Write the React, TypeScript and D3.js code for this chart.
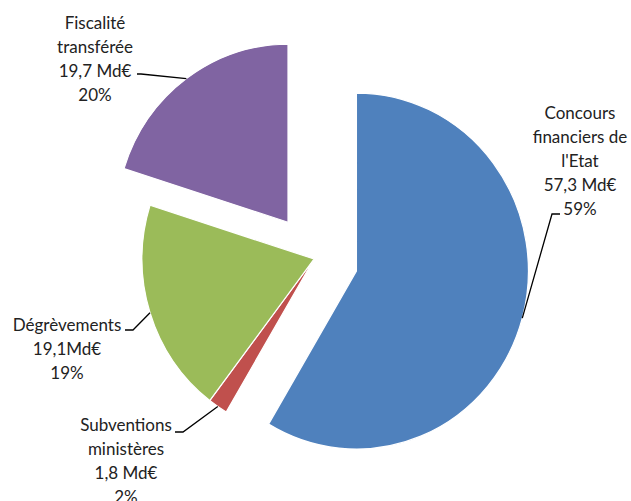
import React from "react";
import * as d3 from "d3";

const categories = ["Concours financiers de l'Etat", "Subventions ministères", "Dégrèvements", "Fiscalité transférée"];
const values = [57.3, 1.8, 19.1, 19.7];
const labelLines = [
  ["Concours", "financiers de", "l'Etat", "57,3 Md€", "59%"],
  ["Subventions", "ministères", "1,8 Md€", "2%"],
  ["Dégrèvements", "19,1Md€", "19%"],
  ["Fiscalité", "transférée", "19,7 Md€", "20%"],
];
const colors = ["#4F81BD", "#C0504D", "#9BBB59", "#8064A2"];
const explode = [44, 0, 0, 44];

// label layout: center x, first baseline y, leader start (x,y), elbow x
const labelLayout = [
  { cx: 580, y0: 119, sx: 560, sy: 214, ex: 552 },
  { cx: 126, y0: 431, sx: 175, sy: 432, ex: 183 },
  { cx: 67, y0: 331, sx: 125, sy: 330, ex: 133 },
  { cx: 95, y0: 29, sx: 137, sy: 74, ex: 141 },
];

const W = 631;
const H = 501;
const CX = 314;
const CY = 259;
const R = 172;
const KY = 1.035; // slight vertical stretch, as in the reference
const LH = 24;

export default function App() {
  const pie = d3.pie<number>().sort(null).value((d) => d);
  const arcs = pie(values);
  const arcGen = d3.arc<d3.PieArcDatum<number>>().innerRadius(0).outerRadius(R);
  const rimArc = d3.arc<d3.PieArcDatum<number>>().innerRadius(R).outerRadius(R);

  return (
    <svg
      width={W}
      height={H}
      style={{ position: "absolute", left: 0, top: 0, background: "#fff" }}
      fontFamily="Lato, 'Open Sans', sans-serif"
    >
      <g transform={`translate(${CX},${CY}) scale(1,${KY})`}>
        {arcs.map((a, i) => {
          const mid = (a.startAngle + a.endAngle) / 2;
          const dx = Math.sin(mid) * explode[i];
          const dy = -Math.cos(mid) * explode[i];
          return (
            <path
              key={categories[i]}
              d={arcGen(a) || ""}
              transform={`translate(${dx},${dy})`}
              fill={colors[i]}
              stroke="#fff"
              strokeWidth={1.2}
              vectorEffect="non-scaling-stroke"
            />
          );
        })}
      </g>
      {arcs.map((a, i) => {
        const mid = (a.startAngle + a.endAngle) / 2;
        const dx = Math.sin(mid) * explode[i];
        const dy = -Math.cos(mid) * explode[i];
        const [px, py] = rimArc.centroid(a);
        const tx = CX + dx + px;
        const ty = CY + (dy + py) * KY;
        const L = labelLayout[i];
        return (
          <g key={"lbl" + i}>
            <polyline
              points={`${L.sx},${L.sy} ${L.ex},${L.sy} ${tx},${ty}`}
              fill="none"
              stroke="#000"
              strokeWidth={1.3}
            />
            <text textAnchor="middle" fontSize={17} fill="#222">
              {labelLines[i].map((t, j) => (
                <tspan key={j} x={L.cx} y={L.y0 + j * LH}>
                  {t}
                </tspan>
              ))}
            </text>
          </g>
        );
      })}
    </svg>
  );
}
